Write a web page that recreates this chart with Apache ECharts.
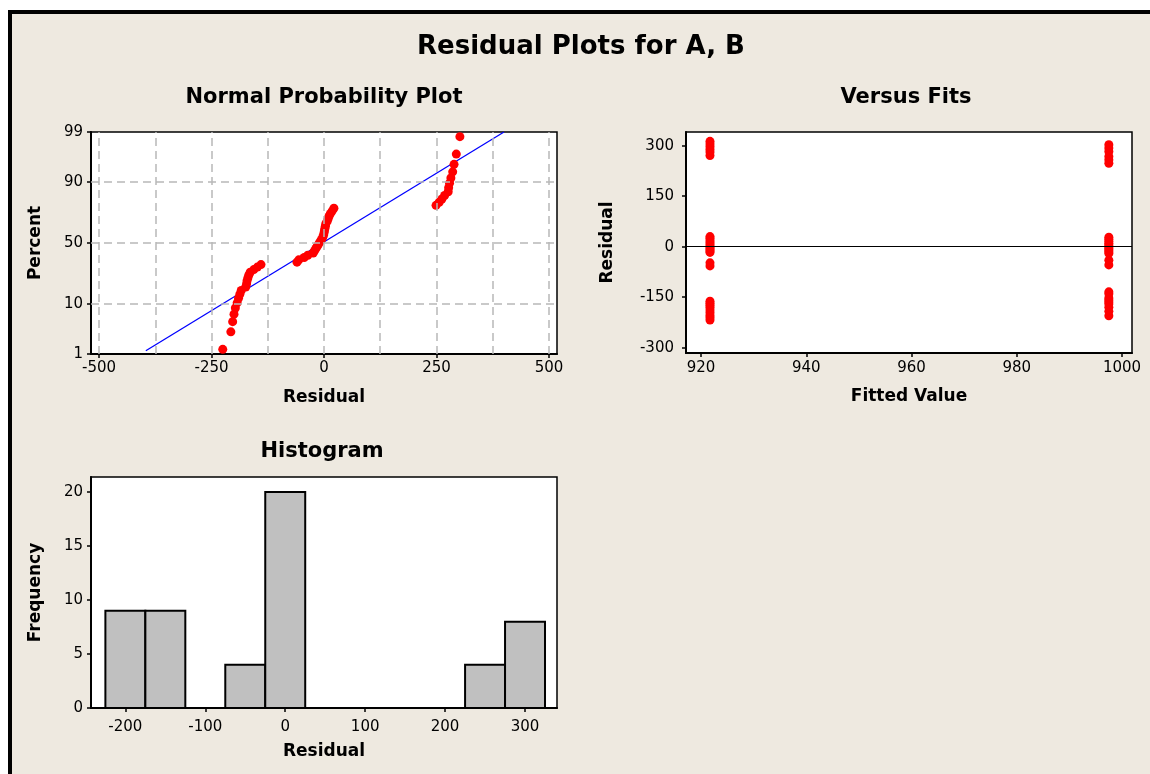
<!DOCTYPE html>
<html>
<head>
<meta charset="utf-8">
<title>Residual Plots for A, B</title>
<script src="https://cdn.jsdelivr.net/npm/echarts@6/dist/echarts.min.js"></script>
<style>
  html, body { margin: 0; padding: 0; background: #ffffff; }
  #frame {
    position: absolute; left: 8px; top: 10px; width: 1138px; height: 760px;
    background: #EEE9E0; border-left: 4px solid #000; border-top: 4px solid #000;
  }
  #chart { position: absolute; left: 0; top: 0; width: 1150px; height: 774px; }
</style>
</head>
<body>
<div id="frame"></div>
<div id="chart"></div>
<script>
// ---- Normal probability plot: sorted residuals and their plotting percents ----
const normalResiduals = [
  -225, -207, -203, -200, -197, -193, -190, -187, -184, -174, -172, -171, -169, -167, -164, -156, -148, -140,
  -60, -56, -44, -36, -24, -21, -18, -15, -12, -9, -6, -3, -1, 0, 1, 2, 3, 4, 7, 9, 11, 14, 18, 22,
  249, 256, 262, 268, 276, 277, 279, 282, 286, 289, 294, 302
];
const normalPercents = [
  1.29, 3.13, 4.96, 6.80, 8.64, 10.48, 12.32, 14.15, 15.99, 17.83,
  19.67, 21.51, 23.35, 25.18, 27.02, 28.86, 30.70, 32.54, 34.38, 36.21,
  38.05, 39.89, 41.73, 43.57, 45.40, 47.24, 49.08, 50.92, 52.76, 54.60,
  56.43, 58.27, 60.11, 61.95, 63.79, 65.63, 67.46, 69.30, 71.14, 72.98,
  74.82, 76.65, 78.49, 80.33, 82.17, 84.01, 85.85, 87.68, 89.52, 91.36,
  93.20, 95.04, 96.88, 98.71
];
// fitted normal line (residual, percent) end points
const fitLineResiduals = [-396, 400];
const fitLinePercents = [1.2, 99];
const percentTicks = [1, 10, 50, 90, 99];
const percentGrid = [10, 50, 90];
const residualTicksNormal = [-500, -250, 0, 250, 500];
const residualGridNormal = [-500, -375, -250, -125, 0, 125, 250, 375, 500];

// ---- Versus fits ----
const fittedValues = [921.7, 997.5];
const residualsAtFit1 = [313, 305, 297, 289, 281, 271, 30, 25, 18, 12, 6, 0, -4, -9, -13, -17, -48, -57,
  -162, -168, -174, -180, -188, -196, -204, -211, -218];
const residualsAtFit2 = [303, 293, 283, 268, 258, 248, 28, 22, 16, 10, 5, 0, -5, -10, -15, -20, -40, -54,
  -134, -140, -152, -158, -164, -170, -180, -192, -205];
const fittedTicks = [920, 940, 960, 980, 1000];
const residualTicksFits = [-300, -150, 0, 150, 300];

// ---- Histogram ----
const binMidpoints = [-200, -150, -100, -50, 0, 50, 100, 150, 200, 250, 300];
const binWidth = 50;
const frequencies = [9, 9, 0, 4, 20, 0, 0, 0, 0, 4, 8];
const histResidualTicks = [-200, -100, 0, 100, 200, 300];
const frequencyTicks = [0, 5, 10, 15, 20];

// inverse standard normal CDF (probability axis transform)
function probit(p) {
  const a = [-3.969683028665376e+01, 2.209460984245205e+02, -2.759285104469687e+02, 1.383577518672690e+02, -3.066479806614716e+01, 2.506628277459239e+00];
  const b = [-5.447609879822406e+01, 1.615858368580409e+02, -1.556989798598866e+02, 6.680131188771972e+01, -1.328068155288572e+01];
  const c = [-7.784894002430293e-03, -3.223964580411365e-01, -2.400758277161838e+00, -2.549732539343734e+00, 4.374664141464968e+00, 2.938163982698783e+00];
  const d = [7.784695709041462e-03, 3.224671290700398e-01, 2.445134137142996e+00, 3.754408661907416e+00];
  const pl = 0.02425, ph = 1 - pl;
  let q, r;
  if (p < pl) {
    q = Math.sqrt(-2 * Math.log(p));
    return (((((c[0]*q+c[1])*q+c[2])*q+c[3])*q+c[4])*q+c[5]) / ((((d[0]*q+d[1])*q+d[2])*q+d[3])*q+1);
  }
  if (p <= ph) {
    q = p - 0.5; r = q * q;
    return (((((a[0]*r+a[1])*r+a[2])*r+a[3])*r+a[4])*r+a[5])*q / (((((b[0]*r+b[1])*r+b[2])*r+b[3])*r+b[4])*r+1);
  }
  q = Math.sqrt(-2 * Math.log(1 - p));
  return -(((((c[0]*q+c[1])*q+c[2])*q+c[3])*q+c[4])*q+c[5]) / ((((d[0]*q+d[1])*q+d[2])*q+d[3])*q+1);
}
const pz = pct => probit(pct / 100);

const FONT = '"DejaVu Sans", Verdana, sans-serif';
const labelStyle = { fontFamily: FONT, fontSize: 15, color: '#000' };
const nameStyle = { fontFamily: FONT, fontSize: 17, fontWeight: 'bold', color: '#000' };
const plainNumber = v => String(Math.round(v));

function axisBase(extra) {
  return Object.assign({
    type: 'value',
    axisLine: { show: true, onZero: false, lineStyle: { color: '#000', width: 2 } },
    splitLine: { show: false },
    nameLocation: 'middle',
    nameTextStyle: nameStyle
  }, extra);
}
function ticks(values) {
  return { show: true, inside: false, length: 4, customValues: values, lineStyle: { color: '#000', width: 1.5 } };
}

function textEl(text, x, y, size) {
  return {
    type: 'text', x: x, y: y, silent: true,
    style: {
      text: text, font: 'bold ' + size + 'px ' + FONT, fill: '#000',
      align: 'center', verticalAlign: 'middle', textAlign: 'center', textVerticalAlign: 'middle'
    }
  };
}

const chart = echarts.init(document.getElementById('chart'), null, { renderer: 'canvas' });

const option = {
  backgroundColor: 'transparent',
  animation: false,
  graphic: [
    textEl('Residual Plots for A, B', 581, 47, 26),
    textEl('Normal Probability Plot', 324, 98, 21),
    textEl('Versus Fits', 906, 98, 21),
    textEl('Histogram', 322, 452, 21)
  ],
  grid: [
    { left: 91, top: 132, width: 466, height: 222, show: true, backgroundColor: '#fff', borderColor: '#000', borderWidth: 1.5 },
    { left: 686, top: 132, width: 446, height: 221, show: true, backgroundColor: '#fff', borderColor: '#000', borderWidth: 1.5 },
    { left: 91, top: 477, width: 466, height: 231, show: true, backgroundColor: '#fff', borderColor: '#000', borderWidth: 1.5 }
  ],
  xAxis: [
    axisBase({
      gridIndex: 0, min: -517.8, max: 517.8, name: 'Residual', nameGap: 35,
      axisLabel: Object.assign({ margin: 7, customValues: residualTicksNormal, formatter: plainNumber }, labelStyle),
      axisTick: ticks(residualTicksNormal)
    }),
    axisBase({
      gridIndex: 1, min: 917.14, max: 1001.9, name: 'Fitted Value', nameGap: 35,
      axisLabel: Object.assign({ margin: 8, customValues: fittedTicks, formatter: plainNumber }, labelStyle),
      axisTick: ticks(fittedTicks)
    }),
    axisBase({
      gridIndex: 2, min: -243, max: 340, name: 'Residual', nameGap: 35,
      axisLabel: Object.assign({ margin: 12, customValues: histResidualTicks, formatter: plainNumber }, labelStyle),
      axisTick: ticks(histResidualTicks)
    })
  ],
  yAxis: [
    axisBase({
      gridIndex: 0, min: pz(1), max: pz(99), name: 'Percent', nameGap: 47,
      axisLabel: Object.assign({
        margin: 8,
        customValues: percentTicks.map(pz),
        formatter: function (v) {
          for (let i = 0; i < percentTicks.length; i++) {
            if (Math.abs(pz(percentTicks[i]) - v) < 1e-6) return String(percentTicks[i]);
          }
          return '';
        }
      }, labelStyle),
      axisTick: ticks(percentTicks.map(pz))
    }),
    axisBase({
      gridIndex: 1, min: -315.7, max: 340.7, name: 'Residual', nameGap: 70,
      axisLabel: Object.assign({ margin: 12, customValues: residualTicksFits, formatter: plainNumber }, labelStyle),
      axisTick: ticks(residualTicksFits)
    }),
    axisBase({
      gridIndex: 2, min: 0, max: 21.4, name: 'Frequency', nameGap: 47,
      axisLabel: Object.assign({ margin: 8, customValues: frequencyTicks, formatter: plainNumber }, labelStyle),
      axisTick: ticks(frequencyTicks)
    })
  ],
  series: [
    // dashed reference grid of the probability plot
    {
      type: 'line', xAxisIndex: 0, yAxisIndex: 0, data: [], z: 1, silent: true,
      markLine: {
        silent: true, symbol: ['none', 'none'], label: { show: false },
        lineStyle: { color: '#b8b8b8', width: 1.5, type: [8, 5] },
        data: residualGridNormal.map(v => ({ xAxis: v }))
          .concat(percentGrid.map(p => ({ yAxis: pz(p) })))
      }
    },
    // fitted normal line
    {
      type: 'line', xAxisIndex: 0, yAxisIndex: 0, z: 2, silent: true,
      showSymbol: false, symbol: 'none',
      lineStyle: { color: '#0000ff', width: 1.3 },
      data: fitLineResiduals.map((r, i) => [r, pz(fitLinePercents[i])])
    },
    // residual points on probability scale
    {
      type: 'scatter', xAxisIndex: 0, yAxisIndex: 0, z: 3, silent: true,
      symbol: 'circle', symbolSize: 9, itemStyle: { color: '#ff0000', opacity: 1 },
      data: normalResiduals.map((r, i) => [r, pz(normalPercents[i])])
    },
    // residuals versus fitted values
    {
      type: 'scatter', xAxisIndex: 1, yAxisIndex: 1, z: 3, silent: true,
      symbol: 'circle', symbolSize: 9, itemStyle: { color: '#ff0000', opacity: 1 },
      data: residualsAtFit1.map(r => [fittedValues[0], r])
        .concat(residualsAtFit2.map(r => [fittedValues[1], r])),
      markLine: {
        silent: true, symbol: ['none', 'none'], label: { show: false },
        lineStyle: { color: '#000', width: 1, type: 'solid' },
        data: [{ yAxis: 0 }]
      }
    },
    // histogram bars
    {
      type: 'custom', xAxisIndex: 2, yAxisIndex: 2, silent: true,
      data: binMidpoints.map((m, i) => [m - binWidth / 2, m + binWidth / 2, frequencies[i]]),
      encode: { x: [0, 1], y: 2 },
      renderItem: function (params, api) {
        const topLeft = api.coord([api.value(0), api.value(2)]);
        const bottomRight = api.coord([api.value(1), 0]);
        return {
          type: 'rect',
          shape: { x: topLeft[0], y: topLeft[1], width: bottomRight[0] - topLeft[0], height: bottomRight[1] - topLeft[1] },
          style: { fill: '#c0c0c0', stroke: '#000', lineWidth: 2 }
        };
      }
    }
  ]
};

chart.setOption(option);
</script>
</body>
</html>
